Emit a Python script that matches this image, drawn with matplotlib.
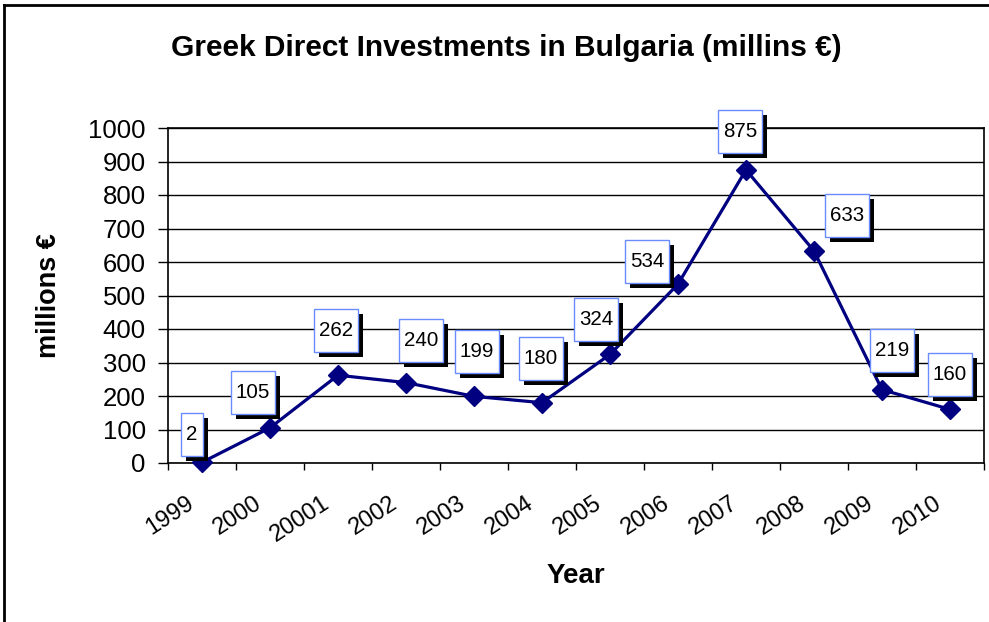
import matplotlib
matplotlib.use('Agg')
import matplotlib.pyplot as plt
from matplotlib.path import Path
from matplotlib.lines import Line2D
from matplotlib.transforms import ScaledTranslation

plt.rcParams['font.family'] = ['Liberation Sans', 'DejaVu Sans']

years = ['1999', '2000', '20001', '2002', '2003', '2004',
         '2005', '2006', '2007', '2008', '2009', '2010']
values = [2, 105, 262, 240, 199, 180, 324, 534, 875, 633, 219, 160]
yticks = list(range(0, 1001, 100))

# where each value box sits relative to its point (pixels: right, up)
label_offsets = [(-10, 28), (-17, 35), (-2, 45), (15, 42), (3, 45), (-1, 44),
                 (-14, 35), (-31, 23), (-6, 38), (33, 35), (10, 39), (0, 35)]

LABEL_FS = 14.8


def make_box(n_chars):
    # excel style data label box: narrow side padding, tall box
    def box(x0, y0, width, height, mutation_size):
        w = n_chars * 0.556 * mutation_size + 10
        h = 43
        cx = x0 + width / 2
        cy = y0 + height / 2
        l, r, b, t = cx - w / 2, cx + w / 2, cy - h / 2, cy + h / 2
        return Path([(l, b), (r, b), (r, t), (l, t), (l, b)], closed=True)
    return box


fig = plt.figure(figsize=(9.89, 6.22), dpi=100)
ax = fig.add_axes([168 / 989, 1 - 463 / 622, 816 / 989, 335 / 622])

xs = [i + 0.5 for i in range(len(years))]
ax.plot(xs, values, color='#000080', lw=2.3, marker='D', ms=10,
        markeredgecolor='#000080', zorder=3, clip_on=False)

for x, v, (dx, dy) in zip(xs, values, label_offsets):
    box = make_box(len(str(v)))
    # drop shadow
    ax.annotate(' ', (x, v), xytext=(dx + 5, dy - 5), textcoords='offset pixels',
                ha='center', va='center', fontsize=LABEL_FS,
                bbox=dict(boxstyle=box, fc='black', ec='black', lw=0),
                zorder=4, annotation_clip=False)
    ax.annotate(str(v), (x, v), xytext=(dx, dy), textcoords='offset pixels',
                ha='center', va='center', fontsize=LABEL_FS, color='black',
                bbox=dict(boxstyle=box, fc='white', ec='#6a8cff', lw=1),
                zorder=5, annotation_clip=False)

ax.set_xlim(0, len(years))
ax.set_ylim(0, 1000)
ax.set_yticks(yticks)
ax.set_yticklabels([str(t) for t in yticks], fontsize=18.5)
ax.tick_params(axis='y', direction='out', length=7, width=1, pad=9)

ax.set_xticks(range(len(years) + 1))
ax.set_xticklabels([])
ax.set_xticks(xs, minor=True)
ax.set_xticklabels(years, minor=True, fontsize=17, rotation=33,
                   ha='right', va='baseline', rotation_mode='anchor')
ax.tick_params(axis='x', which='major', direction='out', length=5, width=1)
ax.tick_params(axis='x', which='minor', length=0, pad=31)
for lab in ax.get_xticklabels(minor=True):
    lab.set_transform(lab.get_transform() + ScaledTranslation(-0.07, 0, fig.dpi_scale_trans))

ax.grid(axis='y', color='black', lw=1)
ax.set_axisbelow(True)
for s in ax.spines.values():
    s.set_color('black')
    s.set_linewidth(1.2)

ax.set_ylabel('millions €', fontsize=19.5, fontweight='bold')
ax.yaxis.set_label_coords(-106 / 816, 0.5)
ax.set_xlabel('Year', fontsize=20, fontweight='bold')
ax.xaxis.set_label_coords(0.5, -100 / 335)

fig.text(506 / 989, 1 - 48 / 622, 'Greek Direct Investments in Bulgaria (millins €)',
         ha='center', va='center', fontsize=21.5, fontweight='bold')

# outer chart frame (left and top edges are visible)
fig.add_artist(Line2D([4 / 989, 4 / 989], [0, 1 - 5 / 622], color='black', lw=2,
                      transform=fig.transFigure))
fig.add_artist(Line2D([4 / 989, 1], [1 - 5 / 622, 1 - 5 / 622], color='black', lw=2,
                      transform=fig.transFigure))

fig.savefig('out.png', dpi=100)
